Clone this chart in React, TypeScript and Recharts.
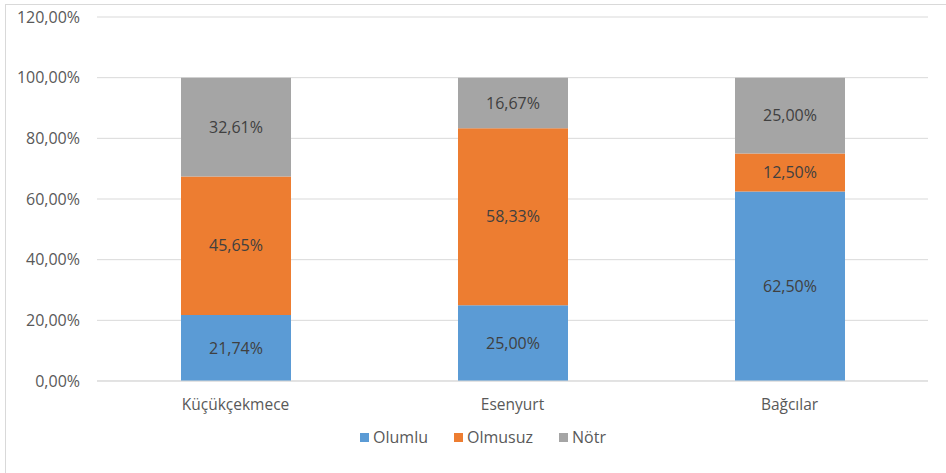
import React from 'react';
import { BarChart, Bar, XAxis, YAxis, CartesianGrid, LabelList } from 'recharts';

const districts = ['Küçükçekmece', 'Esenyurt', 'Bağcılar'];
const olumlu = [21.74, 25.0, 62.5];
const olmusuz = [45.65, 58.33, 12.5];
const notr = [32.61, 16.67, 25.0];
const yTicks = [0, 20, 40, 60, 80, 100, 120];

const SERIES = [
  { key: 'olumlu', name: 'Olumlu', color: '#5b9bd5' },
  { key: 'olmusuz', name: 'Olmusuz', color: '#ed7d31' },
  { key: 'notr', name: 'Nötr', color: '#a5a5a5' },
];

const data = districts.map((d, i) => ({
  name: d,
  olumlu: olumlu[i],
  olmusuz: olmusuz[i],
  notr: notr[i],
}));

const FONT = '"Open Sans", sans-serif';
const pct = (v: any) => Number(v).toFixed(2).replace('.', ',') + '%';

export default function App() {
  return (
    <div style={{ position: 'absolute', left: 0, top: 0, width: 946, height: 473, background: '#fff', fontFamily: FONT }}>
      {/* kenarlık: sadece üst ve sol görünüyor */}
      <div style={{ position: 'absolute', left: 5, top: 4, right: -10, bottom: -10, borderTop: '1px solid #d9d9d9', borderLeft: '1px solid #d9d9d9' }} />
      <div style={{ position: 'absolute', left: 0, top: 0 }}>
        <BarChart width={946} height={473} data={data} barSize={110}
          margin={{ top: 17, right: 18, left: 0, bottom: 62 }}>
          <CartesianGrid vertical={false} stroke="#d9d9d9" />
          <XAxis dataKey="name" axisLine={{ stroke: '#d9d9d9' }} tickLine={false} height={30}
            tickMargin={12} tick={{ fontSize: 15.5, fill: '#595959', fontFamily: FONT }} />
          <YAxis domain={[0, 120]} ticks={yTicks} width={97} axisLine={false} tickLine={false}
            tickMargin={11} tickFormatter={pct} tick={{ fontSize: 16, fill: '#595959', fontFamily: FONT }} />
          {SERIES.map(s => (
            <Bar key={s.key} dataKey={s.key} name={s.name} stackId="a" fill={s.color} isAnimationActive={false}>
              <LabelList dataKey={s.key} position="center" formatter={pct}
                style={{ fontSize: 16, fill: '#404040', fontFamily: FONT }} />
            </Bar>
          ))}
        </BarChart>
      </div>
      {/* lejant */}
      <div style={{ position: 'absolute', left: 0, top: 426, width: 946, display: 'flex', justifyContent: 'center', gap: 26, paddingLeft: 10, fontSize: 16, color: '#595959' }}>
        {SERIES.map(s => (
          <div key={s.key} style={{ display: 'flex', alignItems: 'center', gap: 4 }}>
            <span style={{ width: 9, height: 9, background: s.color, display: 'inline-block' }} />
            <span>{s.name}</span>
          </div>
        ))}
      </div>
    </div>
  );
}
